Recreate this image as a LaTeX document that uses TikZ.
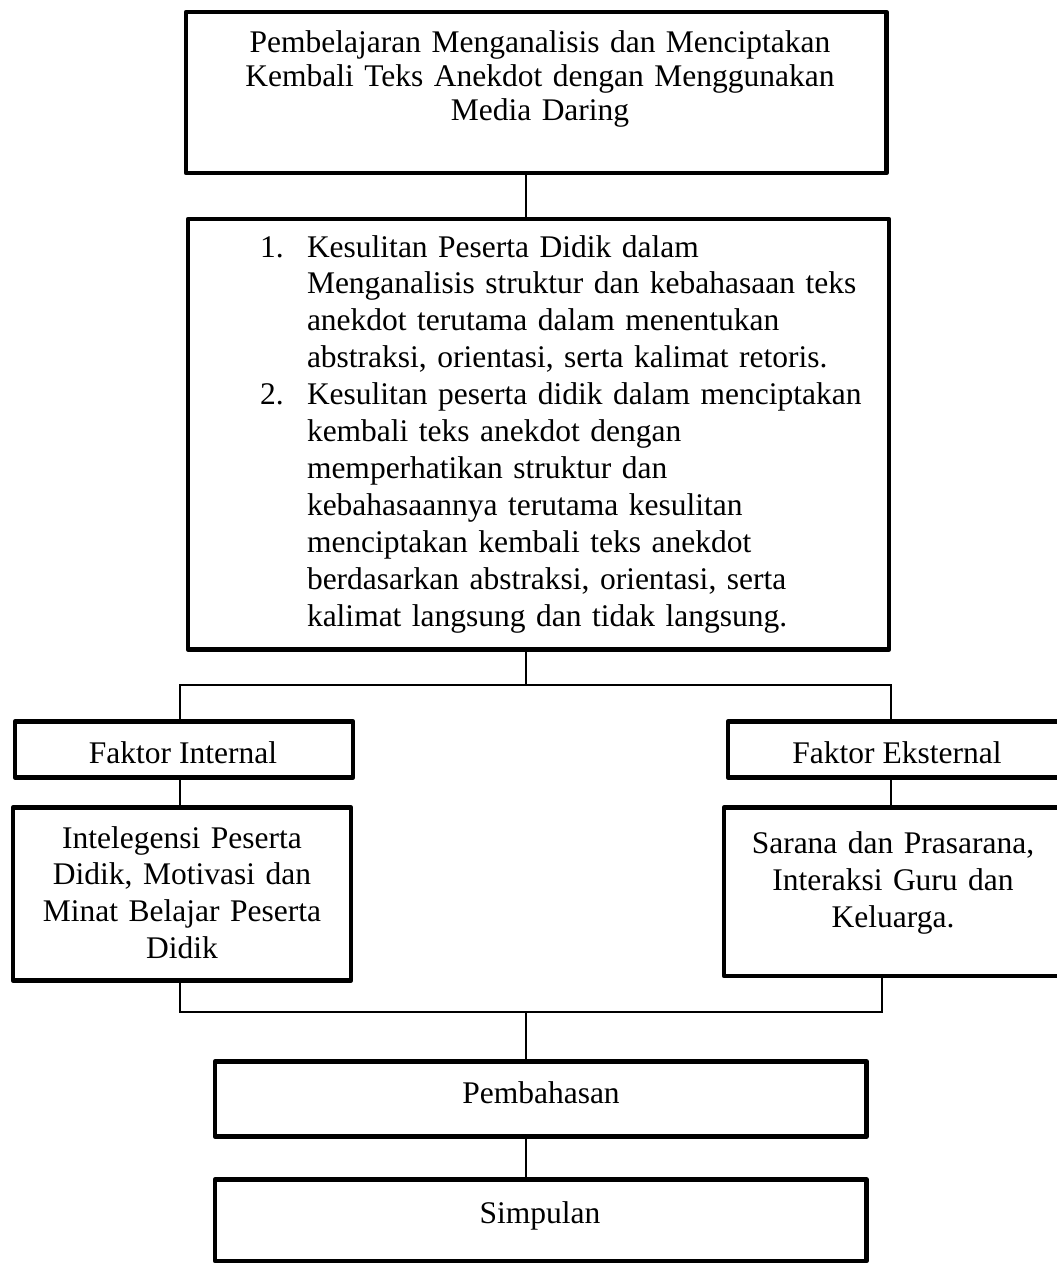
\documentclass[tikz,border=0pt]{standalone}
\usepackage{fontspec}
\setmainfont{Liberation Serif}
\usetikzlibrary{fit}
\begin{document}
\begin{tikzpicture}[x=1pt,y=-1pt,
  box/.style={draw, line width=4.5pt, line join=round, inner sep=0pt, outer sep=0pt},
  conn/.style={draw, line width=1.3pt},
  txt/.style={inner sep=0pt, outer sep=0pt, font=\fontsize{31.5}{36.9}\selectfont},
  mtxt/.style={txt, text width=#1, align=center, anchor=base},
]
\useasboundingbox (0,0) rectangle (1057,1264);
\clip (0,0) rectangle (1057,1264);
\fill[white] (0,0) rectangle (1057,1264);

% boxes
\node[box, fit={(186,12) (886.5,173)}] (b1) {};
\node[box, fit={(188,219) (889,649.5)}] (b2) {};
\node[box, fit={(15,721.5) (353,777.5)}] (fi) {};
\node[box, fit={(728,721.5) (1070,777.5)}] (fe) {};
\node[box, fit={(13,807.5) (351,980.5)}] (di) {};
\node[box, fit={(724,807.5) (1070,976)}] (de) {};
\node[box, fit={(215,1061.5) (866.5,1136.5)}] (pb) {};
\node[box, fit={(215,1179.5) (866.5,1261)}] (sp) {};

% texts
\node[mtxt=750pt, font=\fontsize{31.5}{34}\selectfont] (t1) at (540,52)
  {Pembelajaran Menganalisis dan Menciptakan\\Kembali Teks Anekdot dengan Menggunakan\\Media Daring};
\node[txt, anchor=base west] (n1) at (260,257) {1.};
\node[txt, anchor=base west] (n2) at (260,404.6) {2.};
\node[txt, text width=650pt, align=left, anchor=base west] (t2) at (307,257)
  {Kesulitan Peserta Didik dalam\\
   Menganalisis struktur dan kebahasaan teks\\
   anekdot terutama dalam menentukan\\
   abstraksi, orientasi, serta kalimat retoris.\\
   Kesulitan peserta didik dalam menciptakan\\
   kembali teks anekdot dengan\\
   memperhatikan struktur dan\\
   kebahasaannya terutama kesulitan\\
   menciptakan kembali teks anekdot\\
   berdasarkan abstraksi, orientasi, serta\\
   kalimat langsung dan tidak langsung.};
\node[txt, anchor=base] (tfi) at (183,763) {Faktor Internal};
\node[txt, anchor=base] (tfe) at (897,763) {Faktor Eksternal};
\node[mtxt=340pt, font=\fontsize{31.5}{36.7}\selectfont] (tdi) at (182,848)
  {Intelegensi Peserta\\Didik, Motivasi dan\\Minat Belajar Peserta\\Didik};
\node[mtxt=340pt, font=\fontsize{31.5}{37}\selectfont] (tde) at (893,853)
  {Sarana dan Prasarana,\\Interaksi Guru dan\\Keluarga.};
\node[txt, anchor=base] (tpb) at (541,1103) {Pembahasan};
\node[txt, anchor=base] (tsp) at (540,1223) {Simpulan};

% connectors
\coordinate (mx) at (526,0);
\coordinate (jL) at (180,685);
\coordinate (jR) at (891,685);
\coordinate (kL) at (180,1012);
\coordinate (kR) at (882,1012);
\draw[conn] (b1.south -| mx) -- (b2.north -| mx);
\draw[conn] (b2.south -| mx) -- (mx |- jL);
\draw[conn] (fi.north -| jL) -- (jL) -- (jR) -- (fe.north -| jR);
\draw[conn] (fi.south -| jL) -- (di.north -| jL);
\draw[conn] (fe.south -| jR) -- (de.north -| jR);
\draw[conn] (di.south -| kL) -- (kL) -- (kR) -- (de.south -| kR);
\draw[conn] (mx |- kL) -- (pb.north -| mx);
\draw[conn] (pb.south -| mx) -- (sp.north -| mx);
\end{tikzpicture}
\end{document}
